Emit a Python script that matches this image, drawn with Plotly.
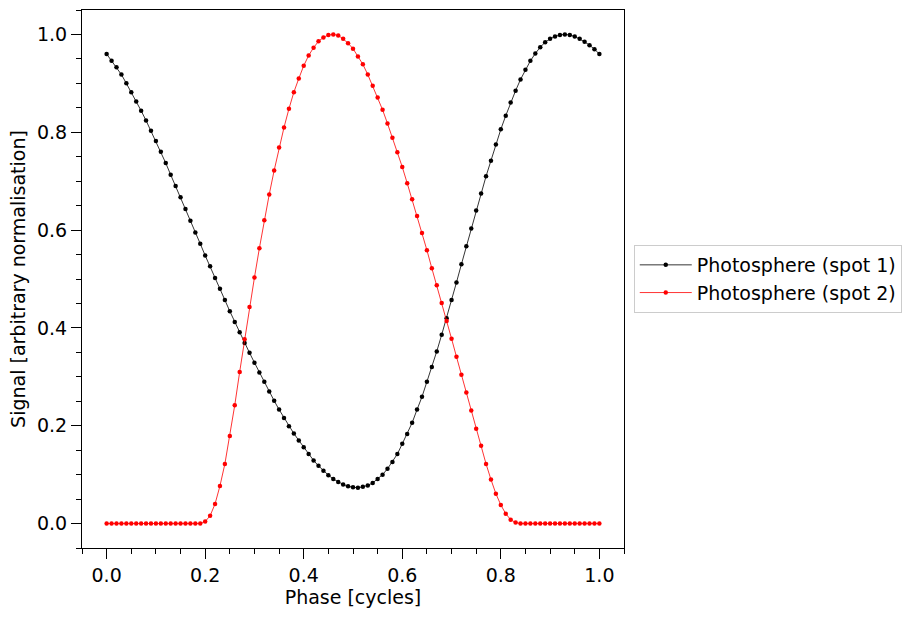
import plotly.graph_objects as go

phase = [0.00, 0.01, 0.02, 0.03, 0.04, 0.05, 0.06, 0.07, 0.08, 0.09,
         0.10, 0.11, 0.12, 0.13, 0.14, 0.15, 0.16, 0.17, 0.18, 0.19,
         0.20, 0.21, 0.22, 0.23, 0.24, 0.25, 0.26, 0.27, 0.28, 0.29,
         0.30, 0.31, 0.32, 0.33, 0.34, 0.35, 0.36, 0.37, 0.38, 0.39,
         0.40, 0.41, 0.42, 0.43, 0.44, 0.45, 0.46, 0.47, 0.48, 0.49,
         0.50, 0.51, 0.52, 0.53, 0.54, 0.55, 0.56, 0.57, 0.58, 0.59,
         0.60, 0.61, 0.62, 0.63, 0.64, 0.65, 0.66, 0.67, 0.68, 0.69,
         0.70, 0.71, 0.72, 0.73, 0.74, 0.75, 0.76, 0.77, 0.78, 0.79,
         0.80, 0.81, 0.82, 0.83, 0.84, 0.85, 0.86, 0.87, 0.88, 0.89,
         0.90, 0.91, 0.92, 0.93, 0.94, 0.95, 0.96, 0.97, 0.98, 0.99,
         1.00]

spot1 = [0.960, 0.946, 0.933, 0.918, 0.900, 0.882, 0.863, 0.844, 0.824, 0.803,
         0.782, 0.760, 0.737, 0.713, 0.690, 0.667, 0.643, 0.619, 0.595, 0.572,
         0.548, 0.526, 0.502, 0.480, 0.457, 0.434, 0.412, 0.391, 0.369, 0.349,
         0.329, 0.309, 0.290, 0.270, 0.251, 0.233, 0.216, 0.199, 0.184, 0.170,
         0.156, 0.142, 0.129, 0.118, 0.108, 0.099, 0.091, 0.085, 0.080, 0.076,
         0.074, 0.073, 0.075, 0.078, 0.083, 0.091, 0.100, 0.112, 0.126, 0.142,
         0.163, 0.183, 0.206, 0.233, 0.259, 0.290, 0.320, 0.352, 0.386, 0.420,
         0.457, 0.493, 0.530, 0.567, 0.603, 0.640, 0.675, 0.710, 0.742, 0.775,
         0.806, 0.834, 0.861, 0.885, 0.908, 0.928, 0.946, 0.961, 0.974, 0.984,
         0.991, 0.996, 0.999, 1.000, 0.999, 0.996, 0.991, 0.985, 0.978, 0.970,
         0.960]

spot2 = [0.000, 0.000, 0.000, 0.000, 0.000, 0.000, 0.000, 0.000, 0.000, 0.000,
         0.000, 0.000, 0.000, 0.000, 0.000, 0.000, 0.000, 0.000, 0.000, 0.000,
         0.004, 0.016, 0.040, 0.077, 0.122, 0.179, 0.242, 0.310, 0.377, 0.443,
         0.503, 0.563, 0.620, 0.673, 0.722, 0.769, 0.810, 0.848, 0.882, 0.910,
         0.936, 0.957, 0.973, 0.986, 0.994, 0.999, 1.000, 0.998, 0.991, 0.982,
         0.971, 0.955, 0.939, 0.918, 0.895, 0.871, 0.846, 0.818, 0.789, 0.759,
         0.729, 0.696, 0.663, 0.629, 0.594, 0.559, 0.522, 0.487, 0.451, 0.414,
         0.378, 0.341, 0.304, 0.268, 0.231, 0.194, 0.159, 0.122, 0.090, 0.061,
         0.038, 0.020, 0.008, 0.002, 0.000, 0.000, 0.000, 0.000, 0.000, 0.000,
         0.000, 0.000, 0.000, 0.000, 0.000, 0.000, 0.000, 0.000, 0.000, 0.000,
         0.000]

series_names = ["Photosphere (spot 1)", "Photosphere (spot 2)"]
series_colors = ["black", "red"]
x_ticks = [0.0, 0.2, 0.4, 0.6, 0.8, 1.0]
y_ticks = [0.0, 0.2, 0.4, 0.6, 0.8, 1.0]

FONT = "DejaVu Sans, Verdana, sans-serif"
FS = 19

fig = go.Figure()
for name, ys, col in zip(series_names, [spot1, spot2], series_colors):
    fig.add_trace(go.Scatter(
        x=phase, y=ys, mode="lines+markers", name=name,
        line=dict(color=col, width=0.8),
        marker=dict(color=col, size=4.5, line=dict(width=0)),
    ))

axis_common = dict(
    showgrid=False, zeroline=False,
    showline=True, linecolor="black", linewidth=1.2, mirror=True,
    ticks="outside", ticklen=10, tickwidth=1.2, tickcolor="black",
    tickfont=dict(family=FONT, size=FS, color="black"),
    tickformat=".1f",
    minor=dict(ticks="outside", ticklen=5, tickwidth=1, tickcolor="black",
               dtick=0.05, tick0=0),
)

fig.update_xaxes(range=[-0.05, 1.05], tickvals=x_ticks,
                 title=dict(text="Phase [cycles]", font=dict(family=FONT, size=FS, color="black"), standoff=4),
                 **axis_common)
fig.update_yaxes(range=[-0.05, 1.05], tickvals=y_ticks,
                 title=dict(text="Signal [arbitrary normalisation]", font=dict(family=FONT, size=FS, color="black"), standoff=6),
                 **axis_common)

fig.update_layout(
    width=917, height=618,
    margin=dict(l=82, r=293, t=10, b=70),
    paper_bgcolor="white", plot_bgcolor="white",
    font=dict(family=FONT, size=FS, color="black"),
    showlegend=True,
    legend=dict(x=1.018, y=0.5, xanchor="left", yanchor="middle",
                bordercolor="#cccccc", borderwidth=1, bgcolor="white",
                font=dict(family=FONT, size=FS, color="black"),
                itemwidth=52, tracegroupgap=0),
)

fig.write_html("out.html")
